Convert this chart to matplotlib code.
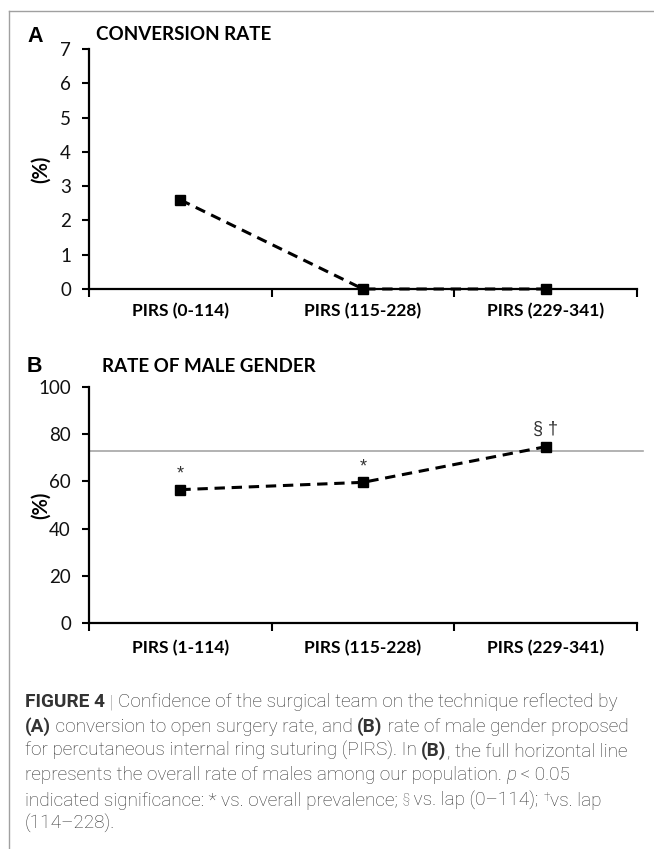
#Figure_4_PIRS_panels

#Importing_Library
import matplotlib
matplotlib.use('Agg')
import matplotlib.pyplot as plt
from matplotlib import font_manager
from matplotlib.lines import Line2D

#Data
groups_a = ['PIRS (0-114)', 'PIRS (115-228)', 'PIRS (229-341)']
conversion = [2.6, 0.0, 0.0]
yticks_a = [0, 1, 2, 3, 4, 5, 6, 7]

groups_b = ['PIRS (1-114)', 'PIRS (115-228)', 'PIRS (229-341)']
male_rate = [56.5, 59.6, 74.7]
overall_male = 72.8
marks_b = ['*', '*', '§ †']
yticks_b = [0, 20, 40, 60, 80, 100]

#Fonts
names = {f.name for f in font_manager.fontManager.ttflist}
def pick(cands):
    for c in cands:
        if c in names:
            return c
    return 'DejaVu Sans'
F_CHART = pick(['Lato', 'Open Sans', 'Liberation Sans'])
F_HEAD = pick(['Liberation Sans', 'DejaVu Sans'])
F_CAP = pick(['Liberation Sans Narrow', 'Roboto', 'Liberation Sans'])

W, H = 654, 849
fig = plt.figure(figsize=(W / 100, H / 100), dpi=100)

def px(x, y):
    return x / W, 1 - y / H

#Outer frame (top and left only)
fig.add_artist(Line2D([9 / W, 9 / W], [0, 1 - 11 / H], color='#a0a0a0', lw=1))
fig.add_artist(Line2D([9 / W, 1], [1 - 11 / H, 1 - 11 / H], color='#a0a0a0', lw=1))


def style_axis(ax, labels, yticks, pad):
    ax.set_xlim(-0.5, 2.5)
    ax.set_ylim(yticks[0], yticks[-1])
    for s in ['top', 'right']:
        ax.spines[s].set_visible(False)
    for s in ['left', 'bottom']:
        ax.spines[s].set_linewidth(1.6)
        ax.spines[s].set_color('black')
    ax.set_yticks(yticks)
    ax.set_yticklabels([str(v) for v in yticks], fontfamily=F_CHART, fontsize=13.5, color='#111111')
    ax.tick_params(axis='y', direction='out', length=5, width=1.5, pad=8)
    ax.set_xticks([-0.5, 0.5, 1.5, 2.5])
    ax.set_xticklabels([])
    ax.tick_params(axis='x', which='major', direction='out', length=6, width=1.5)
    ax.set_xticks([0, 1, 2], minor=True)
    ax.set_xticklabels(labels, minor=True, fontfamily=F_CHART, fontsize=12.5, fontweight='bold')
    ax.tick_params(axis='x', which='minor', length=0, pad=pad)
    ax.patch.set_alpha(0)


def plot_series(ax, values):
    line, = ax.plot(range(len(values)), values, color='black', lw=2.2,
                    linestyle='--', marker='s', markersize=7.5, clip_on=False, zorder=4)
    line.set_dashes([3.4, 2.2])


#Panel_A
axA = fig.add_axes([89 / W, 1 - 289 / H, (637 - 89) / W, (289 - 49) / H])
style_axis(axA, groups_a, yticks_a, 10)
plot_series(axA, conversion)
fig.text(*px(27, 42), 'A', fontfamily=F_HEAD, fontweight='bold', fontsize=15.5, va='baseline')
fig.text(*px(96, 40), 'CONVERSION RATE', fontfamily=F_CHART, fontweight='bold', fontsize=13.5, va='baseline')
fig.text(*px(41, 169), '(%)', fontfamily=F_CHART, fontweight='bold', fontsize=14.5,
         rotation=90, ha='center', va='center')

#Panel_B
axB = fig.add_axes([89 / W, 1 - 623 / H, (637 - 89) / W, (623 - 387) / H])
style_axis(axB, groups_b, yticks_b, 12)
axB.axhline(overall_male, xmin=0, xmax=(643 - 89) / (637 - 89), color='#a6a6a6', lw=1.2,
            clip_on=False, zorder=2)
plot_series(axB, male_rate)
offsets = [11, 11, 12.5]
for i, (v, m) in enumerate(zip(male_rate, marks_b)):
    axB.annotate(m, (i, v), xytext=(0, offsets[i]), textcoords='offset points', ha='center',
                 va='center', fontsize=13, color='#333333', fontfamily=F_HEAD)
fig.text(*px(27, 372), 'B', fontfamily=F_HEAD, fontweight='bold', fontsize=15.5, va='baseline')
fig.text(*px(102, 372), 'RATE OF MALE GENDER', fontfamily=F_CHART, fontweight='bold', fontsize=13.5, va='baseline')
fig.text(*px(41, 505), '(%)', fontfamily=F_CHART, fontweight='bold', fontsize=14.5,
         rotation=90, ha='center', va='center')

#Caption
renderer = fig.canvas.get_renderer()
cap_color = '#333333'

B = {'fontweight': 'bold'}
lines = [
    [('FIGURE 4', B), (' | ', {'color': '#888888'}), ('Confidence of the surgical team on the technique reflected by',)],
    [('(A)', B), (' conversion to open surgery rate, and ',), ('(B)', B), (' rate of male gender proposed',)],
    [('for percutaneous internal ring suturing (PIRS). In ',), ('(B)', B), (', the full horizontal line',)],
    [('represents the overall rate of males among our population. ',), ('p', {'fontstyle': 'italic'}), (' < 0.05',)],
    [('indicated significance: * vs. overall prevalence; ',), ('§', {'scale': 0.62, 'rise': 5}),
     (' vs. lap (0–114); ',), ('†', {'scale': 0.62, 'rise': 5}), ('vs. lap',)],
    [('(114–228).',)],
]
baselines = [707, 732, 756, 780, 806, 829]

def draw_line(y, pieces, size, draw=True):
    x = 25
    for p in pieces:
        kw = dict(p[1]) if len(p) > 1 else {}
        rise = kw.pop('rise', 0)
        scale = kw.pop('scale', 1)
        color = kw.pop('color', cap_color)
        weight = kw.pop('fontweight', 'light')
        t = fig.text(*px(x, y - rise), p[0], fontfamily=F_CAP, fontsize=size * scale,
                     color=color, fontweight=weight, va='baseline', **kw)
        x += t.get_window_extent(renderer).width
        if not draw:
            t.remove()
    return x - 25

# fit the first caption line to the width it has in the figure
base = 12
w1 = draw_line(0, lines[0], base, draw=False)
cap_size = base * 592 / w1

for y, pieces in zip(baselines, lines):
    draw_line(y, pieces, cap_size)

fig.savefig('out.png', dpi=100)
